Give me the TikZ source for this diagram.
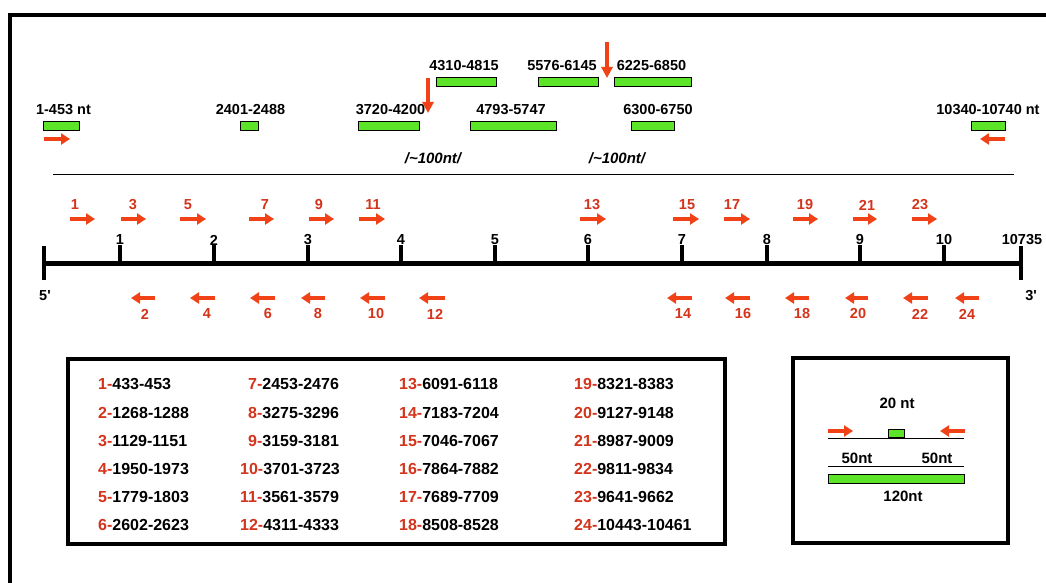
\documentclass[tikz,border=0pt]{standalone}
\usepackage{fontspec}
\setmainfont{Liberation Sans}
\newfontfamily\plainsans{Liberation Sans}
\usetikzlibrary{arrows.meta}
\definecolor{pred}{RGB}{240,66,22}
\definecolor{lred}{RGB}{212,52,28}
\definecolor{pgreen}{RGB}{92,228,40}
\begin{document}
\begin{tikzpicture}[x=1pt,y=-1pt,
  lbl/.style={font=\fontsize{14.5}{16}\selectfont\bfseries, inner sep=0pt},
  rlbl/.style={lbl, text=lred},
  leg/.style={font=\fontsize{16}{18}\selectfont\bfseries, inner sep=0pt, anchor=west},
  bar/.style={draw=black, line width=0.9pt, fill=pgreen, inner sep=0pt, minimum height=9pt},
  parrow/.style={draw=pred, line width=4pt, -{Triangle[length=9pt,width=11pt]}},
  darrow/.style={draw=pred, line width=3.5pt, -{Triangle[length=11pt,width=11pt]}},
  frame/.style={draw=black, line width=4pt, line join=miter},
  thin/.style={draw=black, line width=1pt}]
\useasboundingbox (0,0) rectangle (1046,583);
\fill[white] (0,0) rectangle (1046,583);
% outer frame (top and left edges)
\coordinate (f0) at (10,590);
\coordinate (f1) at (10,15);
\coordinate (f2) at (1052,15);
\draw[frame] (f0) -- (f1) -- (f2);

% fragment bars, row 1
\node[bar, minimum width=60pt] (t1) at (466,81.5) {};
\node[bar, minimum width=60pt] (t2) at (568,81.5) {};
\node[bar, minimum width=77pt] (t3) at (652.5,81.5) {};
\node[lbl] (lt1) at (464,66) {4310-4815};
\node[lbl] (lt2) at (562,66) {5576-6145};
\node[lbl] (lt3) at (651.5,66) {6225-6850};
% row 2
\node[bar, minimum width=36pt] (b1) at (61,125.5) {};
\node[bar, minimum width=18pt] (b2) at (249,125.5) {};
\node[bar, minimum width=61pt] (b3) at (388.5,125.5) {};
\node[bar, minimum width=86pt] (b4) at (513,125.5) {};
\node[bar, minimum width=43pt] (b5) at (652.5,125.5) {};
\node[bar, minimum width=34pt] (b6) at (988,125.5) {};
\node[lbl] (lb1) at (63.5,110) {1-453 nt};
\node[lbl] (lb2) at (250.5,110) {2401-2488};
\node[lbl] (lb3) at (390.5,110) {3720-4200};
\node[lbl] (lb4) at (511,110) {4793-5747};
\node[lbl] (lb5) at (658,110) {6300-6750};
\node[lbl] (lb6) at (988,110) {10340-10740 nt};
% down arrows
\coordinate (d1s) at (428,78);
\coordinate (d1e) at (428,113);
\coordinate (d2s) at (607,42);
\coordinate (d2e) at (607,78);
\draw[darrow] (d1s) -- (d1e);
\draw[darrow] (d2s) -- (d2e);
% end primers
\coordinate (e1s) at (44,139);
\coordinate (e1e) at (70,139);
\coordinate (e2s) at (1005,139);
\coordinate (e2e) at (980,139);
\draw[parrow] (e1s) -- (e1e);
\draw[parrow] (e2s) -- (e2e);
% ~100nt
\node[lbl, font=\fontsize{15}{16}\selectfont\bfseries\itshape] (g1) at (433,158) {/\char`\~100nt/};
\node[lbl, font=\fontsize{15}{16}\selectfont\bfseries\itshape] (g2) at (617,158) {/\char`\~100nt/};
\coordinate (h0) at (53,174);
\coordinate (h1) at (1014,174);
\draw[thin] (h0) -- (h1);

% ruler
\coordinate (r0) at (44,263);
\coordinate (r1) at (1021,263);
\draw[line width=5pt] (r0) -- (r1);
\coordinate (r0a) at (44,246);
\coordinate (r0b) at (44,280);
\coordinate (r1a) at (1021,246);
\coordinate (r1b) at (1021,280);
\draw[line width=4pt] (r0a) -- (r0b);
\draw[line width=4pt] (r1a) -- (r1b);
\foreach \n/\x in {1/120,2/214,3/308,4/401,5/495,6/588,7/682,8/767,9/860,10/944}{
  \coordinate (k\n a) at (\x,245);
  \coordinate (k\n b) at (\x,263);
  \draw[line width=3.5pt] (k\n a) -- (k\n b);
  \node[lbl] (kl\n) at (\x,240) {\n};
}
\node[lbl] (kend) at (1022,240) {10735};
\node[lbl] (p5) at (45,296) {\plainsans\bfseries 5'};
\node[lbl] (p3) at (1031,296) {\plainsans\bfseries 3'};

% forward primers
\foreach \n/\xa/\xb/\xl in {1/70/95/75,3/121/146/133,5/180/206/188,7/249/274/265,9/309/334/319,11/359/385/373,13/580/606/592,15/673/699/687,17/724/750/732,19/793/818/805,21/853/877/867,23/912/937/920}{
  \coordinate (a\n s) at (\xa,219);
  \coordinate (a\n e) at (\xb,219);
  \draw[parrow] (a\n s) -- (a\n e);
  \node[rlbl] (al\n) at (\xl,205) {\n};
}
% reverse primers
\foreach \n/\xa/\xb/\xl in {2/131/155/145,4/190/215/207,6/250/275/268,8/301/325/318,10/360/385/376,12/419/445/435,14/667/692/683,16/725/750/743,18/785/809/802,20/845/868/858,22/903/928/920,24/955/979/967}{
  \coordinate (a\n s) at (\xb,298);
  \coordinate (a\n e) at (\xa,298);
  \draw[parrow] (a\n s) -- (a\n e);
  \node[rlbl] (al\n) at (\xl,314) {\n};
}

% legend box
\node[frame, minimum width=657pt, minimum height=185pt, inner sep=0pt] (legend) at (396.5,451) {};
\foreach \n/\v/\x/\y in {1/433-453/98/384,2/1268-1288/98/413,3/1129-1151/98/441,4/1950-1973/98/469,5/1779-1803/98/497,6/2602-2623/98/525,
  7/2453-2476/248/384,8/3275-3296/248/413,9/3159-3181/248/441,10/3701-3723/240/469,11/3561-3579/240/497,12/4311-4333/240/525,
  13/6091-6118/399/384,14/7183-7204/399/413,15/7046-7067/399/441,16/7864-7882/399/469,17/7689-7709/399/497,18/8508-8528/399/525,
  19/8321-8383/574/384,20/9127-9148/574/413,21/8987-9009/574/441,22/9811-9834/574/469,23/9641-9662/574/497,24/10443-10461/574/525}{
  \node[leg] (lg\n) at (\x,\y) {\textcolor{lred}{\n-}\v};
}

% schematic box
\node[frame, minimum width=215pt, minimum height=185pt, inner sep=0pt] (sbox) at (900.5,450.5) {};
\node[lbl, font=\fontsize{15}{16}\selectfont\bfseries] (s20) at (897,403) {20 nt};
\coordinate (sl0) at (828,438);
\coordinate (sl1) at (964,438);
\draw[thin] (sl0) -- (sl1);
\node[bar, minimum width=16pt, minimum height=8pt, anchor=south] (sg) at (896,438) {};
\coordinate (sa1s) at (828,431);
\coordinate (sa1e) at (853,431);
\coordinate (sa2s) at (965,431);
\coordinate (sa2e) at (940,431);
\draw[parrow] (sa1s) -- (sa1e);
\draw[parrow] (sa2s) -- (sa2e);
\node[lbl, font=\fontsize{15}{16}\selectfont\bfseries] (s50a) at (857,458) {50nt};
\node[lbl, font=\fontsize{15}{16}\selectfont\bfseries] (s50b) at (937,458) {50nt};
\coordinate (sm0) at (828,466);
\coordinate (sm1) at (964,466);
\draw[thin] (sm0) -- (sm1);
\node[bar, minimum width=136pt] (sbar) at (896,478.5) {};
\node[lbl, font=\fontsize{15}{16}\selectfont\bfseries] (s120) at (903,496) {120nt};
\end{tikzpicture}
\end{document}
